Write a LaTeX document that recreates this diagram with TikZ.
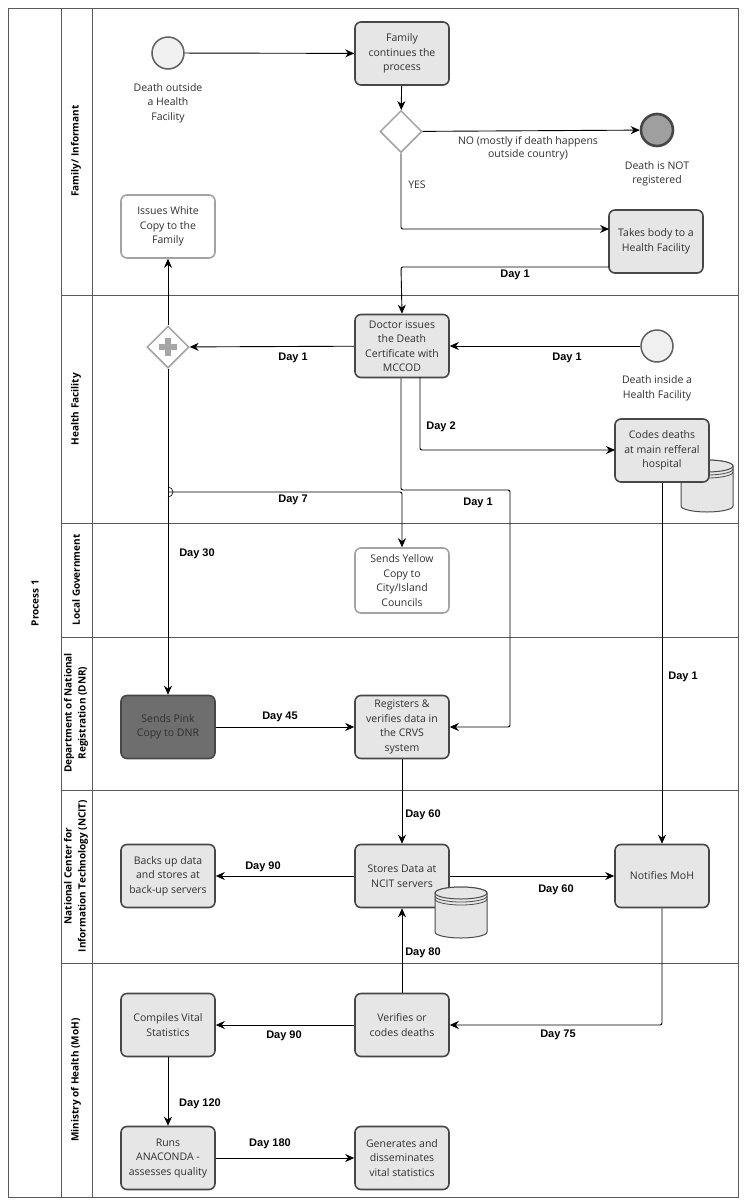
\documentclass[tikz,border=0pt]{standalone}
\usepackage{fontspec}
\setmainfont{Open Sans}
\newfontfamily\dayfont{Liberation Sans}
\usetikzlibrary{arrows.meta,shapes.geometric,calc}
\definecolor{boxfill}{HTML}{E6E6E6}
\definecolor{boxdraw}{HTML}{474747}
\definecolor{lightdraw}{HTML}{A3A3A3}
\definecolor{lanecol}{HTML}{5A5A5A}
\definecolor{darkfill}{HTML}{6E6E6E}
\definecolor{txt}{HTML}{303030}
\begin{document}
\begin{tikzpicture}[x=1pt,y=-1pt,
  task/.style={rectangle, rounded corners=6pt, draw=boxdraw, fill=boxfill, line width=1.6pt,
    minimum width=94pt, minimum height=63pt, align=center, inner sep=1pt, text=txt,
    font=\fontsize{10.5}{14.5}\selectfont},
  wtask/.style={task, draw=lightdraw, fill=white},
  dtask/.style={task, fill=darkfill, draw=boxdraw},
  event/.style={circle, draw=gray!75!black, fill=gray!12, line width=1.5pt, minimum size=32pt, inner sep=0pt},
  endev/.style={circle, draw=boxdraw, fill=gray!75, line width=2.6pt, minimum size=32pt, inner sep=0pt},
  gw/.style={diamond, draw=lightdraw, fill=white, line width=1.5pt, minimum width=42pt, minimum height=42pt, inner sep=0pt},
  evlbl/.style={align=center, text=txt, font=\fontsize{10.5}{14.5}\selectfont},
  daylbl/.style={text=black, font=\dayfont\bfseries\fontsize{11}{12}\selectfont},
  plainlbl/.style={align=center, text=txt, font=\fontsize{10.5}{13.5}\selectfont},
  lanelbl/.style={rotate=90, align=center, font=\bfseries\fontsize{10}{14}\selectfont},
  flow/.style={-{Stealth[length=9pt,width=8pt]}, line width=0.9pt, rounded corners=2pt},
  lane/.style={draw=lanecol, line width=1pt},
  cyl/.style={fill=boxfill, draw=gray!60!black, line width=1pt}
]
\useasboundingbox (0,0) rectangle (755,1203);
\fill[white] (0,0) rectangle (755,1203);

% pool and lanes
\draw[lane] (8,8) rectangle (738,1197);
\draw[lane] (61,8) -- (61,1197);
\draw[lane] (92,8) -- (92,1197);
\foreach \yy in {295,523,637,790,963} \draw[lane] (61,\yy) -- (738,\yy);
\node[lanelbl] (pool) at (35,603) {Process 1};
\node[lanelbl] (l1) at (76,151) {Family/ Informant};
\node[lanelbl] (l2) at (76,409) {Health Facility};
\node[lanelbl] (l3) at (76,580) {Local Government};
\node[lanelbl] (l4) at (76,713) {Department of National\\Registration (DNR)};
\node[lanelbl] (l5) at (76,876) {National Center for\\Information Technology (NCIT)};
\node[lanelbl] (l6) at (76,1080) {Ministry of Health (MoH)};

% cylinder behind codes box
\path[cyl] (681,466) -- (681,506) arc[start angle=180,end angle=360,x radius=26pt,y radius=6pt] -- (733,466) arc[start angle=0,end angle=180,x radius=26pt,y radius=6pt] -- cycle;
\draw[cyl] (707,466) ellipse[x radius=26pt,y radius=6pt];
\draw[gray!60!black, line width=0.8pt] (681,469) arc[start angle=180,end angle=360,x radius=26pt,y radius=6pt];
\draw[gray!60!black, line width=0.8pt] (681,472) arc[start angle=180,end angle=360,x radius=26pt,y radius=6pt];

% nodes
\node[event] (s1) at (168,53) {};
\node[evlbl] (s1l) at (168,103) {Death outside\\a Health\\Facility};
\node[task] (fam) at (402,53.5) {Family\\continues the\\process};
\node[gw] (g1) at (401,131.5) {};
\node[endev] (e1) at (657,130) {};
\node[evlbl] (e1l) at (657,174) {Death is NOT\\registered};
\node[task] (takes) at (656,241.5) {Takes body to a\\Health Facility};
\node[wtask] (white) at (168,226.5) {Issues White\\Copy to the\\Family};
\node[task] (doc) at (402,346) {Doctor issues\\the Death\\Certificate with\\MCCOD};
\node[gw] (pg) at (168,347) {};
\fill[gray!70] ($(pg)+(-9,-3)$) rectangle ($(pg)+(9,3)$);
\fill[gray!70] ($(pg)+(-3,-9)$) rectangle ($(pg)+(3,9)$);
\node[event] (s2) at (657,346) {};
\node[evlbl] (s2l) at (657,388.5) {Death inside a\\Health Facility};
\node[task] (codes) at (662,450.5) {Codes deaths\\at main refferal\\hospital};
\node[wtask, minimum height=65pt] (yellow) at (402,580.5) {Sends Yellow\\Copy to\\City/Island\\Councils};
\node[dtask] (pink) at (168,727) {Sends Pink\\Copy to DNR};
\node[task] (reg) at (402,727) {Registers \&\\verifies data in\\the CRVS\\system};
\node[task] (back) at (168,876) {Backs up data\\and stores at\\back-up servers};
\node[task] (stores) at (402,876) {Stores Data at\\NCIT servers};
\node[task] (notif) at (662,876) {Notifies MoH};
\node[task] (comp) at (168,1025) {Compiles Vital\\Statistics};
\node[task] (ver) at (402,1025) {Verifies or\\codes deaths};
\node[task] (runs) at (168,1158) {Runs\\ANACONDA -\\assesses quality};
\node[task] (gen) at (402,1158) {Generates and\\disseminates\\vital statistics};

% cylinder in front of stores box
\path[cyl] (435,893) -- (435,932) arc[start angle=180,end angle=360,x radius=26pt,y radius=6pt] -- (487,893) arc[start angle=0,end angle=180,x radius=26pt,y radius=6pt] -- cycle;
\draw[cyl] (461,893) ellipse[x radius=26pt,y radius=6pt];
\draw[gray!60!black, line width=0.8pt] (435,896) arc[start angle=180,end angle=360,x radius=26pt,y radius=6pt];
\draw[gray!60!black, line width=0.8pt] (435,899) arc[start angle=180,end angle=360,x radius=26pt,y radius=6pt];

% helper coordinates
\coordinate (c1) at (401,267);
\coordinate (c2) at (401,229);
\coordinate (j7) at (168,492);
\coordinate (d1a) at (401,490);
\coordinate (d1b) at (510,490);
\coordinate (d2a) at (420,377);
\coordinate (d2b) at (420,450);
\coordinate (d2c) at (615,450);
\coordinate (ta) at (609,267);
\coordinate (tb) at (609,229);
\coordinate (m1) at (662,1025);

% connectors
\draw[flow] (s1) -- (fam);
\draw[flow] (fam) -- (g1);
\draw[flow] (g1) -- (e1);
\draw[flow] (g1.south) -- (c2) -- (tb);
\draw[flow] (ta) -- (c1) -- (doc.north);
\draw[flow] (s2) -- (doc);
\draw[flow] (doc) -- (pg);
\draw[flow] (pg) -- (white);
\draw[flow] (pg) -- (pink);
\draw[flow] (j7) -| (yellow.north);
\draw[line width=0.6pt] (168,487) arc[start angle=90,end angle=-90,radius=5pt];
\draw[flow] (doc.south -| d1a) -- (d1a) -- (d1b) |- (reg.east);
\draw[flow] (d2a) -- (d2b) -- (d2c);
\draw[flow] (codes.south) -- (notif.north);
\draw[flow] (pink) -- (reg);
\draw[flow] (reg) -- (stores);
\draw[flow] (stores) -- (back);
\draw[flow] (stores) -- (notif);
\draw[flow] (ver) -- (stores);
\draw[flow] (notif.south) -- (m1) -- (ver.east);
\draw[flow] (ver) -- (comp);
\draw[flow] (comp) -- (runs);
\draw[flow] (runs) -- (gen);

% labels
\node[plainlbl] (lno) at (528,148) {NO (mostly if death happens\\outside country)};
\node[plainlbl] (lyes) at (417,185) {YES};
\node[daylbl] at (515,275) {Day 1};
\node[daylbl] at (293,358) {Day 1};
\node[daylbl] at (567,358) {Day 1};
\node[daylbl] at (441,427) {Day 2};
\node[daylbl] at (293,500) {Day 7};
\node[daylbl] at (478,503) {Day 1};
\node[daylbl] at (197,554) {Day 30};
\node[daylbl] at (683,677) {Day 1};
\node[daylbl] at (280,717) {Day 45};
\node[daylbl] at (423,815) {Day 60};
\node[daylbl] at (263,867) {Day 90};
\node[daylbl] at (556,890) {Day 60};
\node[daylbl] at (423,953) {Day 80};
\node[daylbl] at (284,1036) {Day 90};
\node[daylbl] at (558,1035) {Day 75};
\node[daylbl] at (200,1104) {Day 120};
\node[daylbl] at (270,1144) {Day 180};
\end{tikzpicture}
\end{document}
